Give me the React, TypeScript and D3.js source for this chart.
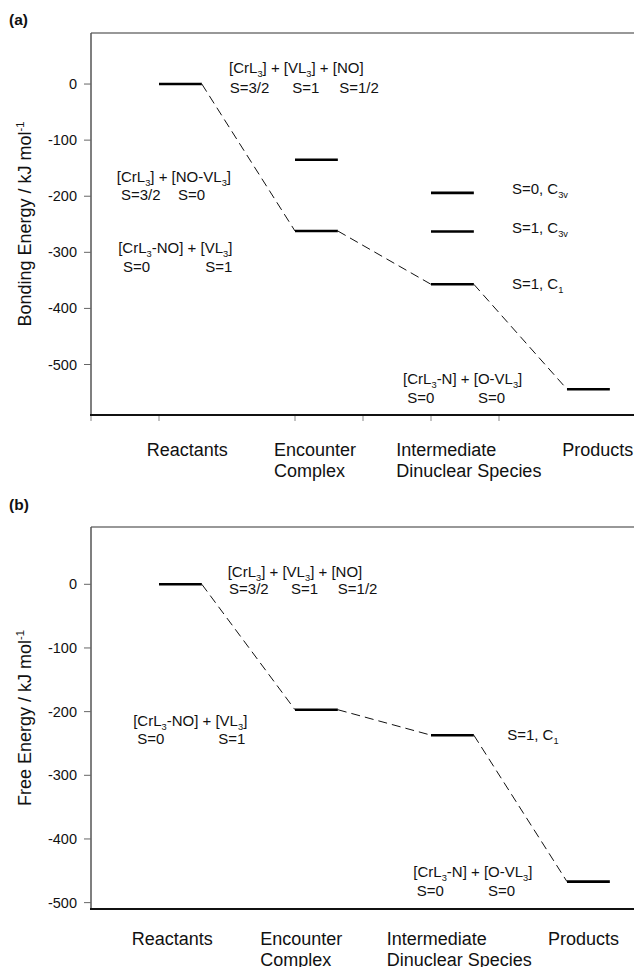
import React, { useEffect, useRef } from "react";
import * as d3 from "d3";

// stages along the reaction coordinate
const stages = ["Reactants", "Encounter\nComplex", "Intermediate\nDinuclear Species", "Products"];
const stagePos = [1, 3, 5, 7];
const xTicksA = [0, 1, 3, 4, 5, 6];

// (a) bonding energies, kJ/mol (one list per stage)
const bondReactants = [0];
const bondEncounter = [-135, -262];
const bondIntermediate = [-194, -263, -357];
const bondProducts = [-544];
const bondPath = [0, -262, -357, -544];

// (b) free energies, kJ/mol
const freeReactants = [0];
const freeEncounter = [-197];
const freeIntermediate = [-237];
const freeProducts = [-467];
const freePath = [0, -197, -237, -467];

const yTicks = [0, -100, -200, -300, -400, -500];

// annotations: [text, x (stage units), y (kJ/mol)]
const notesA = [
  ["[CrL_3] + [VL_3] + [NO]", 2.03, 19.6],
  ["S=3/2", 2.04, -16], ["S=1", 2.96, -16], ["S=1/2", 3.65, -16],
  ["[CrL_3] + [NO-VL_3]", 0.38, -174.6],
  ["S=3/2", 0.44, -207.5], ["S=0", 1.28, -207.5],
  ["[CrL_3-NO] + [VL_3]", 0.4, -301],
  ["S=0", 0.47, -335.8], ["S=1", 1.68, -335.8],
  ["S=0, C_3v", 6.19, -196],
  ["S=1, C_3v", 6.19, -266.3],
  ["S=1, C_1", 6.19, -366],
  ["[CrL_3-N] + [O-VL_3]", 4.59, -534.4],
  ["S=0", 4.65, -568.2], ["S=0", 5.69, -568.2],
];
const notesB = [
  ["[CrL_3] + [VL_3] + [NO]", 2.01, 11.5],
  ["S=3/2", 2.03, -16], ["S=1", 2.94, -16], ["S=1/2", 3.63, -16],
  ["[CrL_3-NO] + [VL_3]", 0.62, -222.5],
  ["S=0", 0.68, -250.8], ["S=1", 1.87, -250.8],
  ["S=1, C_1", 6.12, -244.5],
  ["[CrL_3-N] + [O-VL_3]", 4.74, -459.6],
  ["S=0", 4.79, -489.5], ["S=0", 5.84, -489.5],
];

const FONT = "'Liberation Sans', Arial, Helvetica, sans-serif";

// text with _sub and ^sup parts
function richText(g, str, x, y, size) {
  const t = g.append("text").attr("x", x).attr("y", y).attr("font-size", size).attr("fill", "#111");
  const parts = str.split(/(_\w+|\^[-\w]+)/).filter(p => p !== "");
  let shift = 0;
  parts.forEach(p => {
    if (p[0] === "_") {
      const d = size * 0.25;
      t.append("tspan").attr("dy", d - shift).attr("font-size", size * 0.62).text(p.slice(1));
      shift = d;
    } else if (p[0] === "^") {
      const d = -size * 0.4;
      t.append("tspan").attr("dy", d - shift).attr("font-size", size * 0.62).text(p.slice(1));
      shift = d;
    } else {
      t.append("tspan").attr("dy", -shift).text(p);
      shift = 0;
    }
  });
  return t;
}

function drawPanel(svg, opt) {
  const { top, bottom, domain, levels, path, notes, ylabel, tag, tagY, labelPos, labelY, ticks } = opt;
  const x = d3.scaleLinear().domain([0, 8]).range([91, 635]);
  const y = d3.scaleLinear().domain(domain).range([bottom, top]);
  const w = 0.63;
  const g = svg.append("g").attr("font-family", FONT);

  g.append("text").attr("x", 9).attr("y", tagY).attr("font-size", 15.5)
    .attr("font-weight", "bold").attr("fill", "#111").text(tag);

  // frame: top line, left axis, bottom axis
  g.append("line").attr("x1", x(0)).attr("x2", 634).attr("y1", top).attr("y2", top)
    .attr("stroke", "#333").attr("stroke-width", 1.2);
  g.append("line").attr("x1", x(0)).attr("x2", x(0)).attr("y1", top).attr("y2", bottom)
    .attr("stroke", "#555").attr("stroke-width", 1.5);
  g.append("line").attr("x1", x(0) - 1).attr("x2", 634).attr("y1", bottom).attr("y2", bottom)
    .attr("stroke", "#111").attr("stroke-width", 2);

  // y ticks
  const yt = g.selectAll(".yt").data(yTicks).join("g").attr("class", "yt");
  yt.append("line").attr("x1", x(0) - 7).attr("x2", x(0)).attr("y1", d => y(d)).attr("y2", d => y(d))
    .attr("stroke", "#666").attr("stroke-width", 1);
  yt.append("text").attr("x", x(0) - 14).attr("y", d => y(d)).attr("dy", "0.35em")
    .attr("text-anchor", "end").attr("font-size", 14.5).attr("fill", "#111").text(d => d);

  // x ticks
  g.selectAll(".xt").data(ticks).join("line").attr("class", "xt")
    .attr("x1", d => x(d)).attr("x2", d => x(d)).attr("y1", bottom + 1).attr("y2", bottom + 6)
    .attr("stroke", "#888").attr("stroke-width", 1);

  // y label
  const cy = (top + bottom) / 2;
  richText(g, ylabel, 0, 0, 18).attr("text-anchor", "middle")
    .attr("transform", `translate(31,${cy}) rotate(-90)`);

  // category labels
  stages.forEach((s, i) => {
    const t = g.append("text").attr("x", x(labelPos[i])).attr("y", labelY)
      .attr("font-size", 18).attr("fill", "#111");
    s.split("\n").forEach((line, j) => {
      t.append("tspan").attr("x", x(labelPos[i])).attr("dy", j === 0 ? 0 : 20.5).text(line);
    });
  });

  // dashed connectors between lowest path levels
  const segs = d3.pairs(path.map((v, i) => [stagePos[i], v]));
  g.selectAll(".conn").data(segs).join("line").attr("class", "conn")
    .attr("x1", d => x(d[0][0] + w)).attr("y1", d => y(d[0][1]))
    .attr("x2", d => x(d[1][0])).attr("y2", d => y(d[1][1]))
    .attr("stroke", "#111").attr("stroke-width", 1).attr("stroke-dasharray", "9,5");

  // energy levels
  const lv = levels.flatMap((vals, i) => vals.map(v => ({ s: stagePos[i], v })));
  g.selectAll(".lvl").data(lv).join("line").attr("class", "lvl")
    .attr("x1", d => x(d.s)).attr("x2", d => x(d.s + w))
    .attr("y1", d => y(d.v)).attr("y2", d => y(d.v))
    .attr("stroke", "#000").attr("stroke-width", 2.6);

  notes.forEach(n => richText(g, n[0], x(n[1]), y(n[2]), 15));
}

export default function App() {
  const svgNode = useRef(null);

  useEffect(() => {
    const svg = d3.select(svgNode.current);
    svg.selectAll("*").remove();
    drawPanel(svg, {
      top: 33, bottom: 415, domain: [-590, 91],
      levels: [bondReactants, bondEncounter, bondIntermediate, bondProducts],
      path: bondPath, notes: notesA,
      ylabel: "Bonding Energy / kJ mol^-1", tag: "(a)", tagY: 25,
      labelPos: [0.82, 2.69, 4.49, 6.93], labelY: 456, ticks: xTicksA,
    });
    drawPanel(svg, {
      top: 527, bottom: 909, domain: [-510, 90],
      levels: [freeReactants, freeEncounter, freeIntermediate, freeProducts],
      path: freePath, notes: notesB,
      ylabel: "Free Energy / kJ mol^-1", tag: "(b)", tagY: 510,
      labelPos: [0.6, 2.49, 4.35, 6.72], labelY: 945, ticks: [],
    });
  }, []);

  return (
    <svg ref={svgNode} width={634} height={967}
      style={{ position: "absolute", left: 0, top: 0, display: "block", background: "#fff" }} />
  );
}
